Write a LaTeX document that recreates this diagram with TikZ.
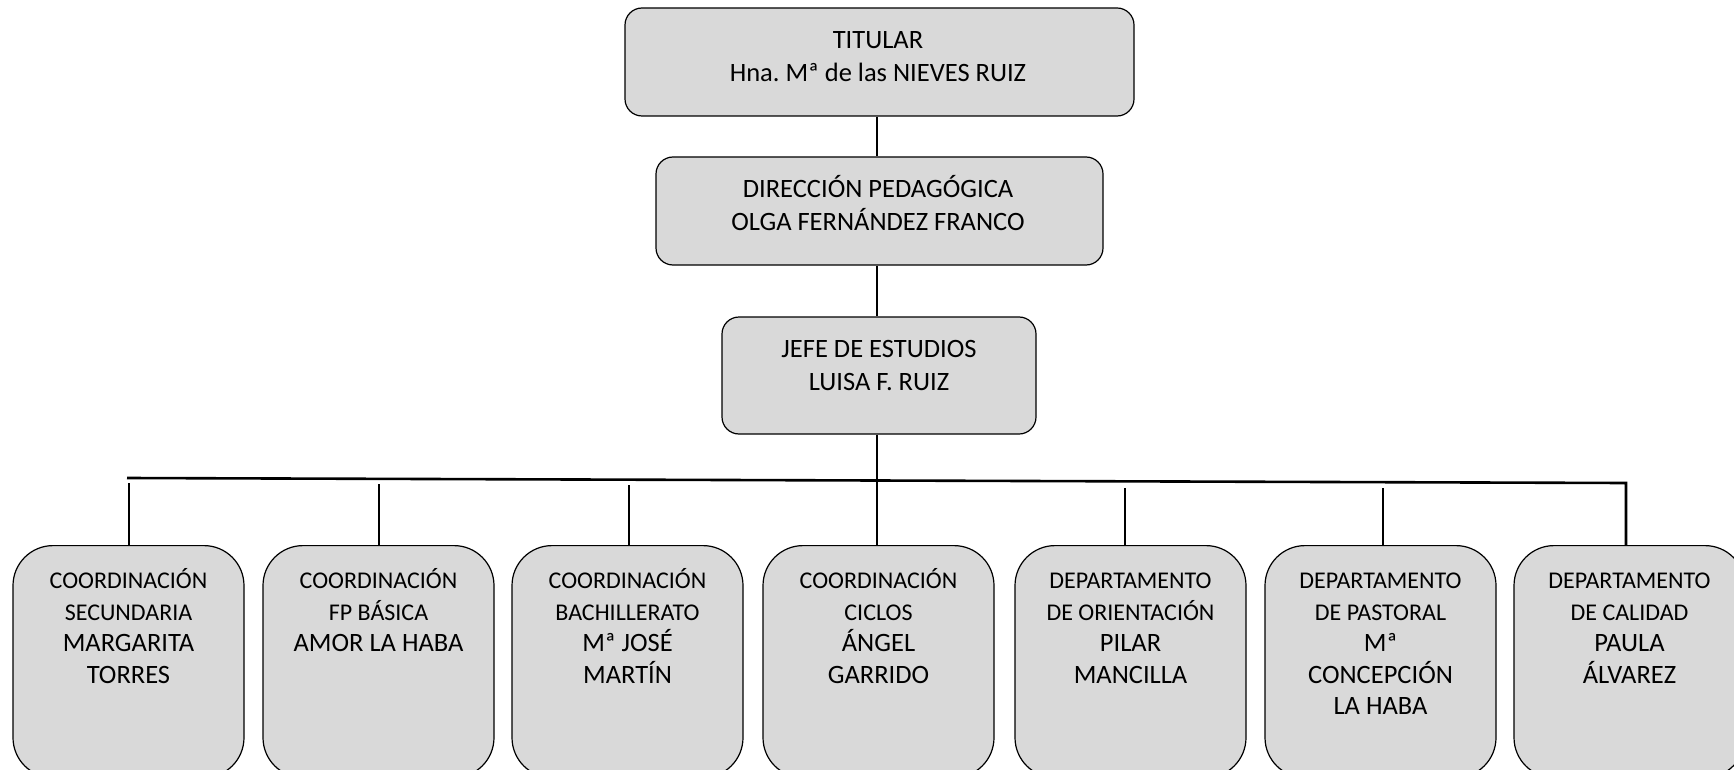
\documentclass[tikz,border=0pt]{standalone}
\usepackage{fontspec}
\setmainfont{Carlito}
\frenchspacing
\definecolor{boxgray}{HTML}{D9D9D9}
\begin{document}
\begin{tikzpicture}[x=1pt,y=-1pt,
  box/.style={draw=black, line width=1.2pt, fill=boxgray, rounded corners=17pt, inner sep=0pt},
  lowbox/.style={draw=black, line width=1.2pt, fill=boxgray, rounded corners=40pt, minimum width=231pt, minimum height=232pt, inner sep=0pt, anchor=north},
  txt/.style={align=center, anchor=north, inner sep=0pt, font=\fontsize{26.5}{33}\selectfont},
  ltxt/.style={align=center, anchor=north, inner sep=0pt, font=\fontsize{24}{31.5}\selectfont},
  conn/.style={line width=2.6pt}]
\useasboundingbox (0,0) rectangle (1734,770);
\clip (0,0) rectangle (1734,770);
\fill[white] (0,0) rectangle (1734,770);

% upper boxes
\node[box, minimum width=509pt, minimum height=108pt] (t) at (879.5,62) {};
\node[box, minimum width=447pt, minimum height=108pt] (d) at (879.5,211) {};
\node[box, minimum width=314pt, minimum height=117pt] (j) at (879,375.5) {};

\node[txt] (tt) at (878,24.5) {\rule{0pt}{24pt}TITULAR\\Hna. Mª de las NIEVES RUIZ};
\node[txt] (dt) at (878,173.5) {\rule{0pt}{24pt}DIRECCIÓN PEDAGÓGICA\\OLGA FERNÁNDEZ FRANCO};
\node[txt] (jt) at (879,333.5) {\rule{0pt}{24pt}JEFE DE ESTUDIOS\\LUISA F. RUIZ};

% lower boxes
\node[lowbox] (b1) at (128.5,545) {};
\node[lowbox] (b2) at (378.5,545) {};
\node[lowbox] (b3) at (627.5,545) {};
\node[lowbox] (b4) at (878.5,545) {};
\node[lowbox] (b5) at (1130.5,545) {};
\node[lowbox] (b6) at (1380.5,545) {};
\node[lowbox] (b7) at (1629.5,545) {};

\node[ltxt] (b1t) at (b1.north |- 0,564.7) {\rule{0pt}{24pt}COORDINACIÓN\\SECUNDARIA\\\fontsize{26.5}{31.5}\selectfont MARGARITA\\\fontsize{26.5}{31.5}\selectfont TORRES};
\node[ltxt] (b2t) at (b2.north |- 0,564.7) {\rule{0pt}{24pt}COORDINACIÓN\\FP BÁSICA\\\fontsize{26.5}{31.5}\selectfont AMOR LA HABA};
\node[ltxt] (b3t) at (b3.north |- 0,564.7) {\rule{0pt}{24pt}COORDINACIÓN\\BACHILLERATO\\\fontsize{26.5}{31.5}\selectfont Mª JOSÉ\\\fontsize{26.5}{31.5}\selectfont MARTÍN};
\node[ltxt] (b4t) at (b4.north |- 0,564.7) {\rule{0pt}{24pt}COORDINACIÓN\\CICLOS\\\fontsize{26.5}{31.5}\selectfont ÁNGEL\\\fontsize{26.5}{31.5}\selectfont GARRIDO};
\node[ltxt] (b5t) at (b5.north |- 0,564.7) {\rule{0pt}{24pt}DEPARTAMENTO\\DE ORIENTACIÓN\\\fontsize{26.5}{31.5}\selectfont PILAR\\\fontsize{26.5}{31.5}\selectfont MANCILLA};
\node[ltxt] (b6t) at (b6.north |- 0,564.7) {\rule{0pt}{24pt}DEPARTAMENTO\\DE PASTORAL\\\fontsize{26.5}{31.5}\selectfont Mª\\\fontsize{26.5}{31.5}\selectfont CONCEPCIÓN\\\fontsize{26.5}{31.5}\selectfont LA HABA};
\node[ltxt] (b7t) at (b7.north |- 0,564.7) {\rule{0pt}{24pt}DEPARTAMENTO\\DE CALIDAD\\\fontsize{26.5}{31.5}\selectfont PAULA\\\fontsize{26.5}{31.5}\selectfont ÁLVAREZ};

% connectors
\coordinate (spine) at (877,0);
\coordinate (hl) at (127,478);
\coordinate (hr) at (1626,483);
\coordinate (v1) at (129,483);
\coordinate (v2) at (379,484);
\coordinate (v3) at (629,485);
\coordinate (v5) at (1125,488);
\coordinate (v6) at (1383,488);

\draw[conn] (t.south -| spine) -- (d.north -| spine);
\draw[conn] (d.south -| spine) -- (j.north -| spine);
\draw[conn] (j.south -| spine) -- (b4.north -| spine);
\draw[conn] (hl) -- (hr) -- (hr |- b7.north);
\draw[conn] (v1) -- (v1 |- b1.north);
\draw[conn] (v2) -- (v2 |- b2.north);
\draw[conn] (v3) -- (v3 |- b3.north);
\draw[conn] (v5) -- (v5 |- b5.north);
\draw[conn] (v6) -- (v6 |- b6.north);
\end{tikzpicture}
\end{document}
